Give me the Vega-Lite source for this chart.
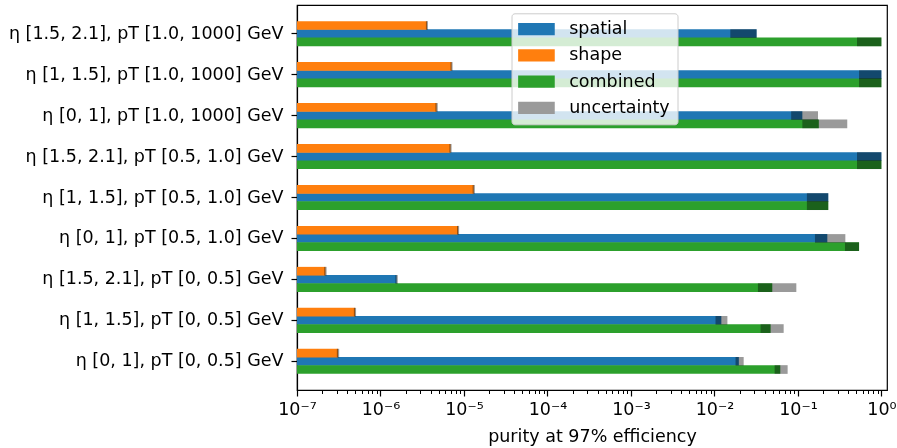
{
  "$schema": "https://vega.github.io/schema/vega-lite/v6.json",
  "autosize": "none",
  "width": 590,
  "height": 385,
  "padding": {"left": 297, "top": 5, "right": 10, "bottom": 58},
  "background": "white",
  "config": {
    "font": "DejaVu Sans",
    "view": {"stroke": "black", "strokeWidth": 1.2},
    "axis": {"domainColor": "black", "tickColor": "black", "labelColor": "black", "titleColor": "black", "grid": false}
  },
  "data": {"values": [
    {"cat": "η [1.5, 2.1], pT [1.0, 1000] GeV", "series": "spatial", "value": 0.032, "lo": 0.0155, "hi": 0.032},
    {"cat": "η [1.5, 2.1], pT [1.0, 1000] GeV", "series": "shape", "value": 3.6e-6, "lo": 3.5e-6, "hi": 3.7e-6},
    {"cat": "η [1.5, 2.1], pT [1.0, 1000] GeV", "series": "combined", "value": 1.0, "lo": 0.51, "hi": 1.0},
    {"cat": "η [1, 1.5], pT [1.0, 1000] GeV", "series": "spatial", "value": 1.0, "lo": 0.54, "hi": 1.0},
    {"cat": "η [1, 1.5], pT [1.0, 1000] GeV", "series": "shape", "value": 7.1e-6, "lo": 6.9e-6, "hi": 7.3e-6},
    {"cat": "η [1, 1.5], pT [1.0, 1000] GeV", "series": "combined", "value": 1.0, "lo": 0.54, "hi": 1.0},
    {"cat": "η [0, 1], pT [1.0, 1000] GeV", "series": "spatial", "value": 0.113, "lo": 0.083, "hi": 0.174},
    {"cat": "η [0, 1], pT [1.0, 1000] GeV", "series": "shape", "value": 4.7e-6, "lo": 4.55e-6, "hi": 4.85e-6},
    {"cat": "η [0, 1], pT [1.0, 1000] GeV", "series": "combined", "value": 0.178, "lo": 0.113, "hi": 0.39},
    {"cat": "η [1.5, 2.1], pT [0.5, 1.0] GeV", "series": "spatial", "value": 1.0, "lo": 0.51, "hi": 1.0},
    {"cat": "η [1.5, 2.1], pT [0.5, 1.0] GeV", "series": "shape", "value": 6.9e-6, "lo": 6.7e-6, "hi": 7.1e-6},
    {"cat": "η [1.5, 2.1], pT [0.5, 1.0] GeV", "series": "combined", "value": 1.0, "lo": 0.51, "hi": 1.0},
    {"cat": "η [1, 1.5], pT [0.5, 1.0] GeV", "series": "spatial", "value": 0.231, "lo": 0.128, "hi": 0.231},
    {"cat": "η [1, 1.5], pT [0.5, 1.0] GeV", "series": "shape", "value": 1.31e-5, "lo": 1.27e-5, "hi": 1.35e-5},
    {"cat": "η [1, 1.5], pT [0.5, 1.0] GeV", "series": "combined", "value": 0.231, "lo": 0.128, "hi": 0.231},
    {"cat": "η [0, 1], pT [0.5, 1.0] GeV", "series": "spatial", "value": 0.225, "lo": 0.16, "hi": 0.37},
    {"cat": "η [0, 1], pT [0.5, 1.0] GeV", "series": "shape", "value": 8.5e-6, "lo": 8.25e-6, "hi": 8.75e-6},
    {"cat": "η [0, 1], pT [0.5, 1.0] GeV", "series": "combined", "value": 0.54, "lo": 0.366, "hi": 0.54},
    {"cat": "η [1.5, 2.1], pT [0, 0.5] GeV", "series": "spatial", "value": 1.56e-6, "lo": 1.51e-6, "hi": 1.61e-6},
    {"cat": "η [1.5, 2.1], pT [0, 0.5] GeV", "series": "shape", "value": 2.19e-7, "lo": 2.12e-7, "hi": 2.26e-7},
    {"cat": "η [1.5, 2.1], pT [0, 0.5] GeV", "series": "combined", "value": 0.0493, "lo": 0.0332, "hi": 0.0957},
    {"cat": "η [1, 1.5], pT [0, 0.5] GeV", "series": "spatial", "value": 0.0121, "lo": 0.0103, "hi": 0.0143},
    {"cat": "η [1, 1.5], pT [0, 0.5] GeV", "series": "shape", "value": 4.96e-7, "lo": 4.8e-7, "hi": 5.1e-7},
    {"cat": "η [1, 1.5], pT [0, 0.5] GeV", "series": "combined", "value": 0.0471, "lo": 0.0357, "hi": 0.0675},
    {"cat": "η [0, 1], pT [0, 0.5] GeV", "series": "spatial", "value": 0.0196, "lo": 0.0179, "hi": 0.0224},
    {"cat": "η [0, 1], pT [0, 0.5] GeV", "series": "shape", "value": 3.1e-7, "lo": 3.0e-7, "hi": 3.2e-7},
    {"cat": "η [0, 1], pT [0, 0.5] GeV", "series": "combined", "value": 0.0615, "lo": 0.0526, "hi": 0.0753}
  ]},
  "encoding": {
    "y": {
      "field": "cat", "type": "nominal", "sort": null,
      "scale": {"paddingInner": 0, "paddingOuter": 0.2},
      "axis": {"title": null, "labelFontSize": 17.5, "tickSize": 6, "labelPadding": 8, "labelLimit": 400, "domainWidth": 1.2, "tickWidth": 1.2}
    },
    "yOffset": {
      "field": "series", "type": "nominal",
      "scale": {"domain": ["shape", "spatial", "combined"], "paddingInner": 0, "paddingOuter": 1.42}
    }
  },
  "layer": [
    {
      "mark": {"type": "bar", "height": 8.7},
      "encoding": {
        "x": {
          "field": "value", "type": "quantitative", "stack": null,
          "scale": {"type": "log", "domain": [1e-7, 1.167], "nice": false},
          "axis": {
            "orient": "bottom",
            "values": [1e-7, 1e-6, 1e-5, 1e-4, 1e-3, 1e-2, 1e-1, 1],
            "labelExpr": "datum.value < 5e-7 ? '10⁻⁷' : datum.value < 5e-6 ? '10⁻⁶' : datum.value < 5e-5 ? '10⁻⁵' : datum.value < 5e-4 ? '10⁻⁴' : datum.value < 5e-3 ? '10⁻³' : datum.value < 5e-2 ? '10⁻²' : datum.value < 0.5 ? '10⁻¹' : '10⁰'",
            "labelFontSize": 17.5, "labelFlush": false, "labelPadding": 4, "tickSize": 6, "tickWidth": 1.2, "domainWidth": 1.2,
            "title": "purity at 97% efficiency", "titleFontSize": 17.5, "titleFontWeight": "normal", "titlePadding": 10
          }
        },
        "color": {
          "field": "series", "type": "nominal",
          "scale": {"domain": ["spatial", "shape", "combined", "uncertainty"], "range": ["#1f77b4", "#ff7f0e", "#2ca02c", "#9a9a9a"]},
          "legend": {
            "title": null, "orient": "none", "legendX": 214.5, "legendY": 8.3,
            "fillColor": "rgba(255,255,255,0.8)", "strokeColor": "#cccccc", "cornerRadius": 3, "padding": 7,
            "symbolType": "M-3,-1H3V1H-3Z", "symbolSize": 149, "symbolStrokeWidth": 0, "symbolOffset": 9.2,
            "labelFontSize": 17.5, "labelOffset": 24, "rowPadding": 7.3, "labelColor": "black"
          }
        }
      }
    },
    {
      "mark": {"type": "bar", "height": 8.7, "blend": "multiply"},
      "encoding": {
        "x": {
          "field": "lo", "type": "quantitative", "stack": null,
          "axis": {
            "orient": "bottom",
            "values": [2e-7,3e-7,4e-7,5e-7,6e-7,7e-7,8e-7,9e-7,2e-6,3e-6,4e-6,5e-6,6e-6,7e-6,8e-6,9e-6,2e-5,3e-5,4e-5,5e-5,6e-5,7e-5,8e-5,9e-5,2e-4,3e-4,4e-4,5e-4,6e-4,7e-4,8e-4,9e-4,2e-3,3e-3,4e-3,5e-3,6e-3,7e-3,8e-3,9e-3,2e-2,3e-2,4e-2,5e-2,6e-2,7e-2,8e-2,9e-2,0.2,0.3,0.4,0.5,0.6,0.7,0.8,0.9],
            "labels": false, "domain": false, "tickSize": 3.5, "tickWidth": 1, "title": null
          }
        },
        "x2": {"field": "hi"},
        "color": {"datum": "uncertainty"}
      }
    }
  ],
  "resolve": {"axis": {"x": "independent"}}
}
